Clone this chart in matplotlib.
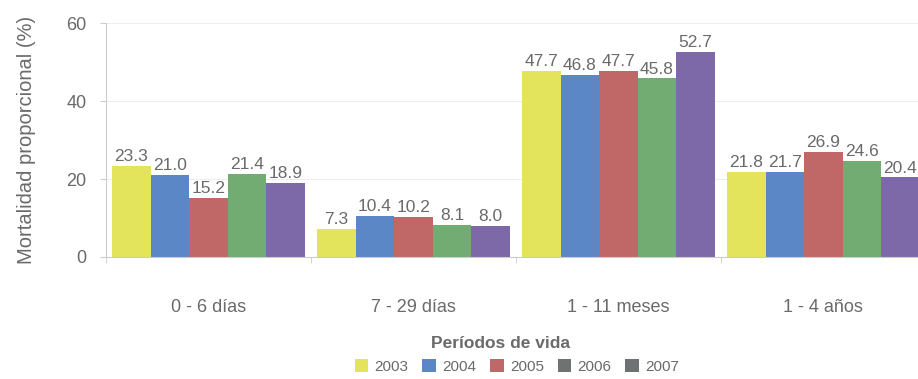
import matplotlib
matplotlib.use("Agg")
import matplotlib.pyplot as plt
import numpy as np
from matplotlib.patches import Patch

plt.rcParams["font.family"] = ["Liberation Sans", "DejaVu Sans"]

periods = ["0 - 6 días", "7 - 29 días", "1 - 11 meses", "1 - 4 años"]
years = ["2003", "2004", "2005", "2006", "2007"]
v2003 = [23.3, 7.3, 47.7, 21.8]
v2004 = [21.0, 10.4, 46.8, 21.7]
v2005 = [15.2, 10.2, 47.7, 26.9]
v2006 = [21.4, 8.1, 45.8, 24.6]
v2007 = [18.9, 8.0, 52.7, 20.4]
series = [v2003, v2004, v2005, v2006, v2007]

bar_colors = ["#e4e45c", "#5b87c6", "#c06868", "#72ac72", "#7d69a8"]
legend_colors = ["#e4e45c", "#5b87c6", "#c06868", "#6e7272", "#6e7272"]
grey = "#6a6a6a"

fig = plt.figure(figsize=(9.18, 3.79), dpi=100)
ax = fig.add_axes([0.1155, 0.322, 0.893, 0.617])

x = np.arange(len(periods))
w = 0.188
for i, (vals, c) in enumerate(zip(series, bar_colors)):
    pos = x + (i - 2) * w
    ax.bar(pos, vals, width=w, color=c, edgecolor="none", zorder=2)
    for p, v in zip(pos, vals):
        ax.text(p, v + 0.5, f"{v:.1f}", ha="center", va="bottom",
                fontsize=12.5, color=grey, zorder=3)

ax.set_xlim(-0.5, len(periods) - 0.5)
ax.set_ylim(0, 60)
ax.set_yticks([0, 20, 40, 60])
ax.set_xticks(x)
ax.set_xticklabels(periods)
ax.set_xticks(np.arange(len(periods) + 1) - 0.5, minor=True)
ax.tick_params(axis="x", which="major", length=0, pad=30, labelsize=13,
               labelcolor=grey)
ax.tick_params(axis="x", which="minor", length=4, color="#cccccc")
ax.tick_params(axis="y", length=4, color="#cccccc", labelsize=13,
               labelcolor=grey, pad=10)
ax.yaxis.grid(True, color="#eeeeee", lw=0.8, zorder=0)

for s in ["top", "right"]:
    ax.spines[s].set_visible(False)
ax.spines["left"].set_color("#cccccc")
ax.spines["bottom"].set_color("#cccccc")

ax.set_ylabel("Mortalidad proporcional (%)", fontsize=14.5, color=grey,
              labelpad=22)
fig.text(0.545, 0.093, "Períodos de vida", ha="center", va="center",
         fontsize=12.5, color=grey, fontweight="bold")

handles = [Patch(facecolor=c, label=y) for c, y in zip(legend_colors, years)]
fig.legend(handles=handles, loc="center", bbox_to_anchor=(0.563, 0.033),
           ncol=5, frameon=False, fontsize=11, handlelength=0.9,
           handleheight=0.9, handletextpad=0.4, columnspacing=0.9,
           labelcolor=grey)

fig.savefig("out.png", dpi=100)
